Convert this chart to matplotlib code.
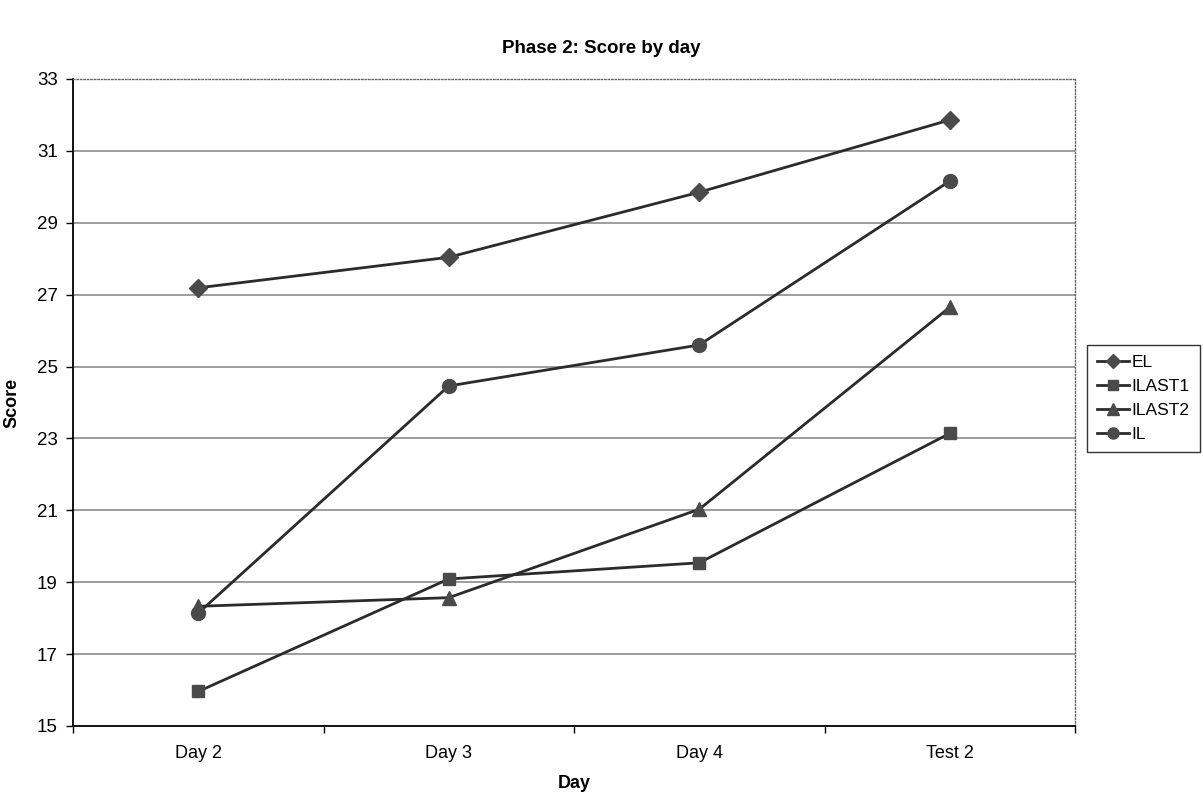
import matplotlib.pyplot as plt

plt.rcParams['font.family'] = ['Liberation Sans', 'DejaVu Sans']

days = ['Day 2', 'Day 3', 'Day 4', 'Test 2']
el = [27.19, 28.04, 29.85, 31.86]
ilast1 = [15.96, 19.09, 19.54, 23.14]
ilast2 = [18.33, 18.57, 21.03, 26.65]
il = [18.14, 24.46, 25.60, 30.16]

series = [
    ('EL', el, 'D', 9),
    ('ILAST1', ilast1, 's', 8.5),
    ('ILAST2', ilast2, '^', 10),
    ('IL', il, 'o', 10),
]

fig = plt.figure(figsize=(12.03, 7.97), dpi=100)
ax = fig.add_axes([0.0607, 0.0891, 0.8329, 0.8118])

x = list(range(len(days)))
for name, vals, mk, ms in series:
    ax.plot(x, vals, color='#2b2b2b', lw=2, marker=mk, markersize=ms,
            markerfacecolor='#4a4a4a', markeredgecolor='#4a4a4a', label=name)

ax.set_xlim(-0.5, len(days) - 0.5)
ax.set_ylim(15, 33)
ax.set_yticks(range(15, 34, 2))
ax.set_xticks(x)
ax.set_xticklabels(days)
ax.set_xticks([i - 0.5 for i in range(len(days) + 1)], minor=True)
ax.tick_params(axis='x', which='major', length=0, pad=14, labelsize=13)
ax.tick_params(axis='x', which='minor', length=5, width=1, color='black')
ax.tick_params(axis='y', length=5, width=1, labelsize=13.5, pad=6)

ax.grid(axis='y', color='#8c8c8c', lw=1.2)
ax.set_axisbelow(True)
# no gridline on the top edge, so the dotted border shows
grid = ax.yaxis.get_gridlines()
grid[0].set_visible(False)
grid[-1].set_visible(False)

for side in ['left', 'bottom']:
    ax.spines[side].set_color('black')
    ax.spines[side].set_linewidth(1.3)
for side in ['top', 'right']:
    ax.spines[side].set_color('#666666')
    ax.spines[side].set_linestyle((0, (1, 1.5)))
    ax.spines[side].set_linewidth(1)

ax.set_xlabel('Day', fontsize=13, fontweight='bold', labelpad=9)
ax.set_ylabel('Score', fontsize=13, fontweight='bold', labelpad=12)
fig.suptitle('Phase 2: Score by day', fontsize=13.5, fontweight='bold', y=0.95)

leg = ax.legend(loc='center left', bbox_to_anchor=(0.9035, 0.5), bbox_transform=fig.transFigure,
                frameon=True, fancybox=False, fontsize=12.5, handlelength=1.8,
                handletextpad=0.15, borderpad=0.6, labelspacing=0.5, borderaxespad=0,
                markerscale=0.8)
leg.get_frame().set_edgecolor('black')
leg.get_frame().set_linewidth(1)

fig.savefig('out.png', dpi=100)
